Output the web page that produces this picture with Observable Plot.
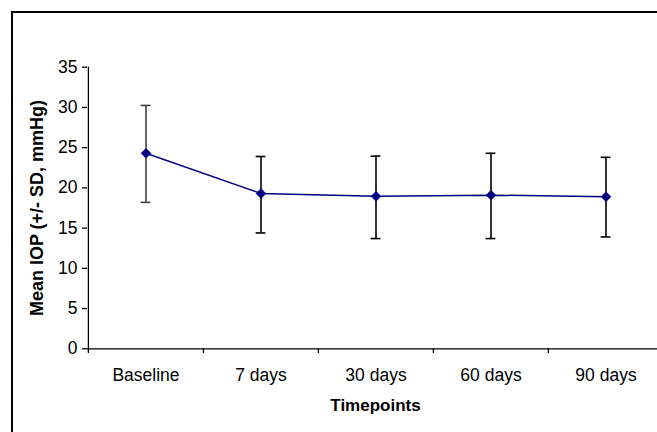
<!DOCTYPE html>
<html><head><meta charset="utf-8">
<script src="https://cdn.jsdelivr.net/npm/d3@7"></script>
<script src="https://cdn.jsdelivr.net/npm/@observablehq/plot@0.6"></script>
<style>
html,body{margin:0;padding:0;background:#fff;overflow:hidden;}
#wrap{position:relative;width:657px;height:432px;overflow:hidden;}
#border{position:absolute;left:11px;top:11px;width:700px;height:500px;border-left:2px solid #000;border-top:2px solid #000;pointer-events:none;}
</style></head><body>
<div id="wrap"><div id="chart"></div><div id="border"></div></div>
<script>
const categories = ["Baseline", "7 days", "30 days", "60 days", "90 days"];
const meanIOP = [24.3, 19.3, 18.95, 19.1, 18.9];
const sdLow = [18.2, 14.4, 13.7, 13.7, 13.9];
const sdHigh = [30.25, 23.9, 23.95, 24.3, 23.8];
const barColors = ["#404040", "#000000", "#000000", "#000000", "#000000"];
const yTicks = [0, 5, 10, 15, 20, 25, 30, 35];
const xTitle = "Timepoints";
const yTitle = "Mean IOP (+/- SD, mmHg)";

const data = categories.map((c, i) => ({cat: c, mean: meanIOP[i], lo: sdLow[i], hi: sdHigh[i], bar: barColors[i]}));

const X0 = 87, X1 = 663;
const bw = (X1 - X0) / categories.length;
const font = "'Liberation Sans', Arial, sans-serif";

const chart = Plot.plot({
  width: 657, height: 432,
  marginLeft: 87, marginRight: -6, marginTop: 67, marginBottom: 84,
  style: {fontFamily: font, fontSize: "17px", background: "transparent", color: "#000"},
  x: {type: "band", domain: categories, range: [X0, X1], padding: 0, axis: null},
  y: {domain: [0, 35], range: [348.3, 66.7], axis: null},
  color: {type: "identity"},
  marks: [
    Plot.ruleY([0], {stroke: "#000", strokeWidth: 1.3}),
    Plot.ruleX([categories[0]], {x: d => d, dx: -bw / 2, y1: 0, y2: 35, stroke: "#000", strokeWidth: 1.3}),
    Plot.axisY({ticks: yTicks, tickSize: 5, tickPadding: 5, label: null, fontSize: 17.5, strokeWidth: 1.3}),
    Plot.axisX({ticks: categories, tickSize: 5, tickFormat: () => "", dx: -bw / 2, label: null, strokeWidth: 1.3}),
    Plot.axisX({ticks: categories, tickSize: 0, tickPadding: 20, label: null, fontSize: 17.5}),
    Plot.ruleX(data, {x: "cat", y1: "lo", y2: "hi", stroke: "bar", strokeWidth: 1.6}),
    Plot.tickY(data, {x: "cat", y: "lo", stroke: "bar", strokeWidth: 1.6, insetLeft: bw / 2 - 5, insetRight: bw / 2 - 5}),
    Plot.tickY(data, {x: "cat", y: "hi", stroke: "bar", strokeWidth: 1.6, insetLeft: bw / 2 - 5, insetRight: bw / 2 - 5}),
    Plot.line(data, {x: "cat", y: "mean", stroke: "#000080", strokeWidth: 1.5}),
    Plot.dot(data, {x: "cat", y: "mean", symbol: "diamond2", r: 4.5, fill: "#000080", stroke: "#000080", strokeWidth: 0.5}),
    Plot.text([yTitle], {frameAnchor: "left", dx: -50, rotate: -90, textAnchor: "middle", fontWeight: "bold", fontSize: 18}),
    Plot.text([xTitle], {frameAnchor: "bottom", dy: 62, fontWeight: "bold", fontSize: 17})
  ]
});
document.getElementById("chart").appendChild(chart);
</script>
</body></html>
